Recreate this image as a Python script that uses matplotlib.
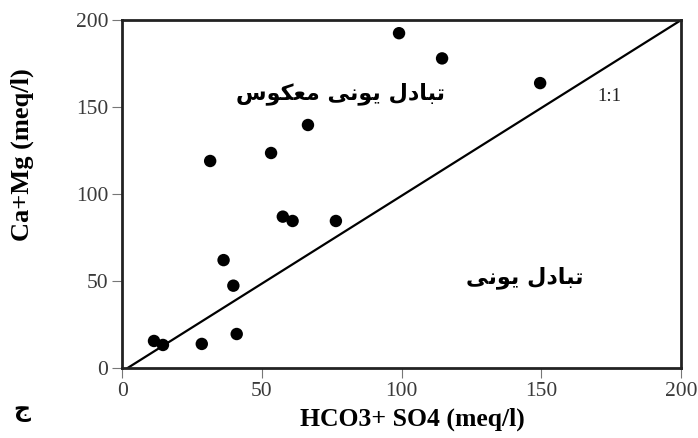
import matplotlib
matplotlib.use("Agg")
import matplotlib.pyplot as plt

# data (meq/l)
hco3_so4 = [99.1, 114.5, 149.6, 66.5, 53.3, 31.5, 57.5, 61.0, 76.5, 36.3, 39.8, 41.0, 11.4, 14.6, 28.5]
ca_mg = [192.5, 178.0, 163.8, 139.7, 123.6, 119.0, 87.0, 84.5, 84.5, 62.0, 47.3, 19.5, 15.5, 13.2, 13.8]
line_x = [2, 200]
line_y = [0, 200]
ticks = [0, 50, 100, 150, 200]

# Persian labels, written in visual (presentation-form) order
label_reverse = "\uFEB1\uFEEE\uFB91\uFECC\uFEE3 \uFEF0\uFEE7\uFEEE\uFEF3 \uFEDD\uFEA9\uFE8E\uFE92\uFE97"  # تبادل یونی معکوس
label_exchange = "\uFEF0\uFEE7\uFEEE\uFEF3 \uFEDD\uFEA9\uFE8E\uFE92\uFE97"  # تبادل یونی
panel = "\u062C"

serif = ["Liberation Serif", "DejaVu Serif"]
arab = ["DejaVu Sans"]

fig = plt.figure(figsize=(6.98, 4.38), dpi=100)
ax = fig.add_axes([0.175, 0.16, 0.8006, 0.794])

ax.plot(line_x, line_y, color="black", lw=1.6, zorder=2)
ax.scatter(hco3_so4, ca_mg, s=80, color="black", zorder=3, edgecolors="none")

ax.set_xlim(0, 200)
ax.set_ylim(0, 200)
ax.set_xticks(ticks)
ax.set_yticks(ticks)
ax.set_xticklabels([str(t) for t in ticks], fontfamily=serif, fontsize=15.5, color="#3a3a3a")
ax.set_yticklabels([str(t) for t in ticks], fontfamily=serif, fontsize=15.5, color="#3a3a3a")
ax.tick_params(direction="out", length=7, width=0.8, color="#777777", pad=3)
for s in ax.spines.values():
    s.set_linewidth(2.0)
    s.set_color("#222222")

ax.text(174.5, 156, "1:1", fontfamily=serif, fontsize=13.5, ha="center", va="center", color="#222222")
ax.text(78, 158, label_reverse, fontfamily=arab, fontsize=16, fontweight="bold", ha="center", va="center")
ax.text(144, 52, label_exchange, fontfamily=arab, fontsize=16, fontweight="bold", ha="center", va="center")

fig.text(412/698, 1-419/438, "HCO3+ SO4 (meq/l)", fontfamily=serif, fontsize=18.5, fontweight="bold", ha="center", va="center")
fig.text(22/698, 1-155/438, "Ca+Mg (meq/l)", fontfamily=serif, fontsize=19, fontweight="bold", ha="center", va="center", rotation=90)
fig.text(22/698, 1-410/438, panel, fontfamily=arab, fontsize=17, fontweight="bold", ha="center", va="center")

fig.savefig("out.png", dpi=100)
